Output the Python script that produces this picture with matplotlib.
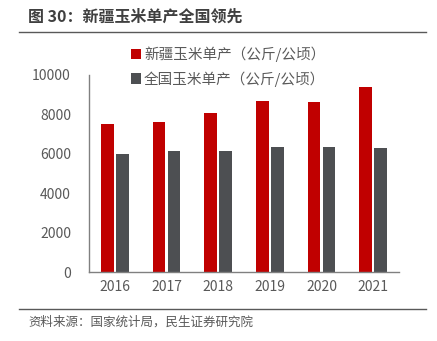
import numpy as np
import matplotlib
matplotlib.use('Agg')
import matplotlib.pyplot as plt
from matplotlib.lines import Line2D

plt.rcParams['font.family'] = ['Noto Sans CJK SC', 'DejaVu Sans']

years = ['2016', '2017', '2018', '2019', '2020', '2021']
xinjiang = [7480, 7600, 8040, 8640, 8630, 9370]
national = [5967, 6110, 6104, 6317, 6317, 6291]
label_xj = '新疆玉米单产（公斤/公顷）'
label_cn = '全国玉米单产（公斤/公顷）'

fig = plt.figure(figsize=(4.37, 3.41), dpi=100)
ax = fig.add_axes([0.2037, 0.2023, 0.7094, 0.5792])

x = np.arange(len(years))
w = 0.25
ax.bar(x - 0.145, xinjiang, w, color='#C00000', label=label_xj)
ax.bar(x + 0.145, national, w, color='#4D4F52', label=label_cn)

ax.set_xlim(-0.5, len(years) - 0.5)
ax.set_ylim(0, 10000)
ax.set_yticks([0, 2000, 4000, 6000, 8000, 10000])
ax.set_xticks(x)
ax.set_xticklabels(years)
ax.tick_params(axis='both', length=0, labelsize=10, colors='#595959')
ax.tick_params(axis='y', pad=13)
ax.tick_params(axis='x', pad=6)
for s in ['top', 'right']:
    ax.spines[s].set_visible(False)
for s in ['left', 'bottom']:
    ax.spines[s].set_color('#808080')
    ax.spines[s].set_linewidth(1)

ax.legend(loc='upper left', bbox_to_anchor=(0.135, 1.14), frameon=False,
          fontsize=10.5, labelcolor='#595959', handlelength=0.7, handleheight=0.7,
          handletextpad=0.2, labelspacing=0.6, borderaxespad=0, borderpad=0)

fig.text(28 / 437, 1 - 17 / 341, '图 30：新疆玉米单产全国领先', fontsize=11.5,
         fontweight='bold', color='#404040', va='center', ha='left')
fig.add_artist(Line2D([19 / 437, 426 / 437], [1 - 32 / 341, 1 - 32 / 341],
                      color='#595959', lw=1))
fig.add_artist(Line2D([19 / 437, 426 / 437], [1 - 309 / 341, 1 - 309 / 341],
                      color='#595959', lw=1))
fig.text(28 / 437, 1 - 322 / 341, '资料来源：国家统计局，民生证券研究院', fontsize=9,
         color='#595959', va='center', ha='left')

fig.savefig('out.png', dpi=100)
